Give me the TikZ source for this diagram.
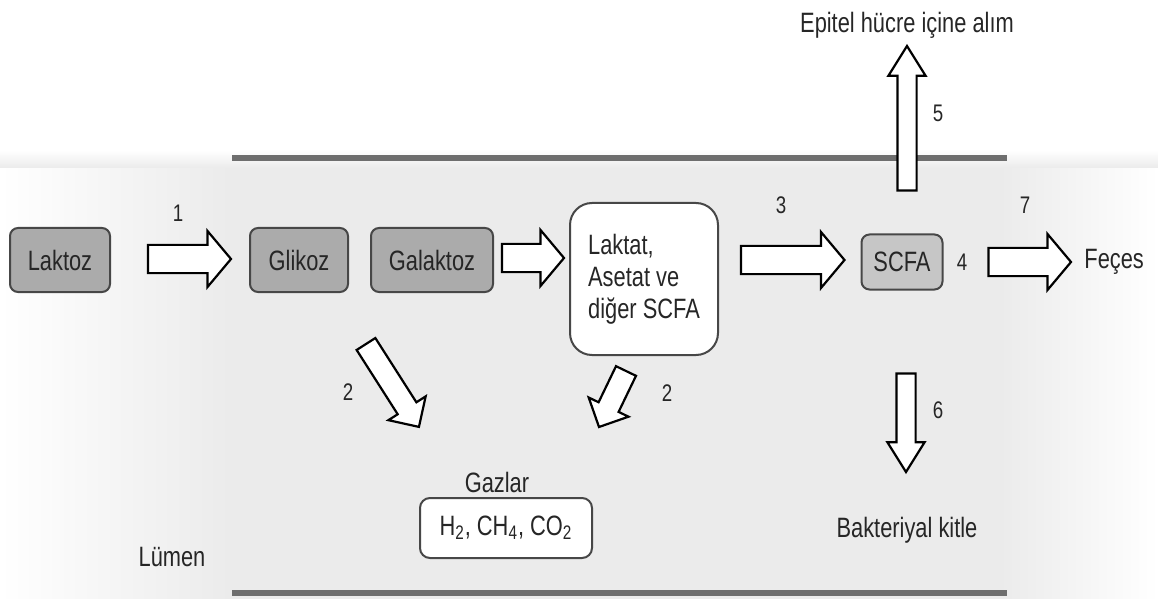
\documentclass[tikz,border=0pt]{standalone}
\usepackage{fontspec}
\setmainfont{Liberation Sans}[FakeStretch=0.78]
\usetikzlibrary{shapes.arrows,calc}
\definecolor{bandgray}{HTML}{EBEBEB}
\definecolor{wallgray}{HTML}{6E6E6E}
\definecolor{sugargray}{HTML}{ABABAB}
\definecolor{scfagray}{HTML}{C6C6C6}
\definecolor{boxline}{HTML}{474747}
\definecolor{inkgray}{HTML}{262626}

% wide hollow arrow from one point to another
\newcommand{\fatconn}[3][]{%
  \path let \p1=(#2), \p2=(#3), \n1={atan2(\y2-\y1,\x2-\x1)}, \n2={veclen(\x2-\x1,\y2-\y1)} in
    node[fatarrow,#1,rotate=\n1,minimum height=\n2,anchor=tail] at (#2) {};}

\begin{document}
\begin{tikzpicture}[x=0.5pt,y=-0.5pt,
	font=\fontsize{14pt}{16pt}\selectfont, text=inkgray,
	sugarbox/.style={rectangle, rounded corners=4pt, draw=boxline, line width=1pt, fill=sugargray, minimum height=32pt, inner sep=2pt},
	scfabox/.style={sugarbox, fill=scfagray, minimum height=27.5pt},
	whitebox/.style={rectangle, draw=boxline, line width=1pt, fill=white, inner sep=2pt},
	numlabel/.style={font=\fontsize{12pt}{14pt}\selectfont},
	fatarrow/.style={single arrow, draw=black, fill=white, line width=1.1pt, inner xsep=0pt, inner ysep=6.5pt, outer sep=0pt,
		minimum width=0pt, single arrow head extend=7pt, single arrow tip angle=100},
	slimarrow/.style={inner ysep=4.25pt, single arrow head extend=4.5pt, single arrow tip angle=64},
	diagarrow/.style={inner ysep=5pt, single arrow head extend=5.5pt, single arrow tip angle=90},
	wall/.style={wallgray, line width=2.6pt}]

	\useasboundingbox (0,0) rectangle (1158,599);

	% lumen background
	\fill[bandgray] (230,165) rectangle (1000,599);
	\shade[left color=white, right color=bandgray] (0,165) rectangle (230,599);
	\shade[left color=bandgray, right color=white] (1000,165) rectangle (1158,599);
	\shade[top color=white, bottom color=bandgray, draw=none] (0,150) rectangle (1158,168);

	% walls
	\draw[wall] (232,158) -- (1007,158);
	\draw[wall] (232,593) -- (1007,593);

	% boxes
	\node[sugarbox, minimum width=50pt] (laktoz) at (60,260) {Laktoz};
	\node[sugarbox, minimum width=49pt] (glikoz) at (299,260) {Glikoz};
	\node[sugarbox, minimum width=61pt] (galaktoz) at (432,260) {Galaktoz};
	\node[whitebox, rounded corners=11pt, minimum width=74pt, minimum height=76pt, align=left] (laktat) at (644,279) {Laktat,\\Asetat ve\\diğer SCFA};
	\node[scfabox, minimum width=40.5pt] (scfa) at (902,262) {SCFA};
	\node[whitebox, rounded corners=5pt, minimum width=86pt, minimum height=30pt] (gazbox) at (506,528) {H\textsubscript{2}, CH\textsubscript{4}, CO\textsubscript{2}};

	% plain texts
	\node (gazlar) at (497,482) {Gazlar};
	\node[anchor=west, inner sep=0pt] (feces) at (1084,262) {Feçes};
	\node (epitel) at (907,25) {Epitel hücre içine alım};
	\node (bakteri) at (907,530) {Bakteriyal kitle};
	\node (lumen) at (172,557) {Lümen};

	% step numbers
	\foreach \k/\t/\x/\y in {1/1/178/213, 2/2/348/392, 3/2/667/393, 4/3/781/205, 5/4/962/262, 6/5/938/113, 7/6/938/410, 8/7/1025/205}
		\node[numlabel] (num\k) at (\x,\y) {\t};

	% arrow ends
	\coordinate (a1s) at ($(laktoz.east)+(37,-1)$);
	\coordinate (a1t) at ($(glikoz.west)+(-18,-1)$);
	\coordinate (a2s) at ($(galaktoz.east)+(8,-2)$);
	\coordinate (a2t) at ($(laktat.west |- galaktoz.east)+(-5,-2)$);
	\coordinate (a3s) at ($(laktat.east |- scfa.west)+(22,-2)$);
	\coordinate (a3t) at ($(scfa.west)+(-16,-2)$);
	\coordinate (a7s) at ($(scfa.east)+(45,0)$);
	\coordinate (a7t) at ($(feces.west)+(-13,0)$);
	\coordinate (a5s) at ($(scfa.north)+(5,-43)$);
	\coordinate (a5t) at ($(epitel.center)+(0,21)$);
	\coordinate (a6s) at ($(scfa.south)+(4,83)$);
	\coordinate (a6t) at ($(bakteri.center)+(-1,-58)$);
	\coordinate (a8s) at ($(glikoz.south)+(67,51)$);
	\coordinate (a8t) at ($(gazbox.north west)+(0,-70)$);
	\coordinate (a9s) at ($(laktat.south)+(-18,15)$);
	\coordinate (a9t) at ($(gazbox.north east)+(6,-70)$);

	% arrows
	\fatconn{a1s}{a1t}
	\fatconn{a2s}{a2t}
	\fatconn{a3s}{a3t}
	\fatconn{a7s}{a7t}
	\fatconn[slimarrow]{a5s}{a5t}
	\fatconn[slimarrow]{a6s}{a6t}
	\fatconn[diagarrow]{a8s}{a8t}
	\fatconn[diagarrow]{a9s}{a9t}
\end{tikzpicture}
\end{document}
